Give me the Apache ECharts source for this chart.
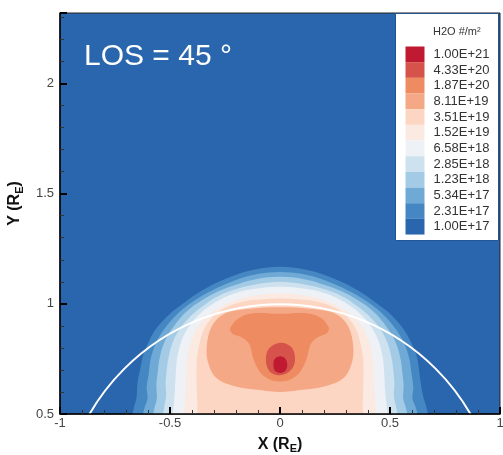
<!DOCTYPE html>
<html>
<head>
<meta charset="utf-8">
<script src="https://cdn.jsdelivr.net/npm/echarts@6/dist/echarts.min.js"></script>
<style>
  html, body { margin: 0; padding: 0; background: #fff; }
  #chart { width: 503px; height: 455px; }
</style>
</head>
<body>
<div id="chart"></div>
<script>
// Column density levels of the legend, lowest first, and their fill colours
const levelLabels = ['1.00E+17', '2.31E+17', '5.34E+17', '1.23E+18', '2.85E+18', '6.58E+18',
                     '1.52E+19', '3.51E+19', '8.11E+19', '1.87E+20', '4.33E+20', '1.00E+21'];
const levelColors = ['#2a66ad', '#4587c3', '#6fa9d5', '#a3cbe5', '#cde1ef', '#eef2f6',
                     '#fbeae2', '#fcd6c2', '#f5a886', '#ee8b60', '#d5534b', '#bf1a31'];

const legendTitle = 'H2O #/m\u00b2';
const losText = 'LOS = 45 \u00b0';
const earthRadius = 1;          // limb of the Earth, in R_E
const limbCenter = [0, 0];

// Filled contour outlines [x, y] (R_E), outermost level first.
// Open bands run below y = 0.5 and are clipped by the plot frame.
const band_2_31e17 = [[-0.672,0.44],[-0.666,0.52],[-0.652,0.575],[-0.648,0.64],[-0.636,0.70],[-0.624,0.76],[-0.600,0.82],[-0.568,0.88],[-0.505,0.95],[-0.442,1.00],[-0.355,1.06],[-0.255,1.11],[-0.130,1.152],[0,1.168],[0.130,1.152],[0.255,1.11],[0.355,1.06],[0.442,1.00],[0.505,0.95],[0.565,0.88],[0.598,0.82],[0.622,0.76],[0.632,0.70],[0.640,0.64],[0.652,0.575],[0.668,0.52],[0.672,0.44]];
const band_5_34e17 = [[-0.624,0.44],[-0.618,0.52],[-0.602,0.57],[-0.606,0.62],[-0.597,0.68],[-0.588,0.75],[-0.565,0.82],[-0.530,0.88],[-0.470,0.95],[-0.410,1.00],[-0.330,1.05],[-0.235,1.095],[-0.120,1.132],[0,1.145],[0.120,1.132],[0.235,1.095],[0.330,1.05],[0.410,1.00],[0.470,0.95],[0.530,0.88],[0.565,0.82],[0.588,0.75],[0.598,0.68],[0.606,0.62],[0.602,0.57],[0.620,0.52],[0.626,0.44]];
const band_1_23e18 = [[-0.578,0.44],[-0.572,0.52],[-0.560,0.57],[-0.562,0.63],[-0.556,0.69],[-0.548,0.75],[-0.528,0.82],[-0.495,0.88],[-0.440,0.95],[-0.380,1.00],[-0.305,1.045],[-0.215,1.082],[-0.110,1.112],[0,1.123],[0.110,1.112],[0.215,1.082],[0.305,1.045],[0.380,1.00],[0.440,0.95],[0.495,0.88],[0.528,0.82],[0.548,0.75],[0.556,0.69],[0.562,0.63],[0.560,0.57],[0.574,0.52],[0.580,0.44]];
const band_2_85e18 = [[-0.535,0.44],[-0.528,0.52],[-0.518,0.58],[-0.520,0.64],[-0.515,0.70],[-0.508,0.75],[-0.490,0.82],[-0.460,0.88],[-0.410,0.94],[-0.350,0.99],[-0.280,1.035],[-0.195,1.068],[-0.100,1.090],[0,1.100],[0.100,1.090],[0.195,1.068],[0.280,1.035],[0.350,0.99],[0.410,0.94],[0.460,0.88],[0.490,0.82],[0.508,0.75],[0.515,0.70],[0.520,0.64],[0.518,0.58],[0.530,0.52],[0.537,0.44]];
const band_6_58e18 = [[-0.490,0.44],[-0.485,0.52],[-0.478,0.60],[-0.474,0.68],[-0.468,0.75],[-0.452,0.82],[-0.425,0.88],[-0.380,0.94],[-0.320,0.99],[-0.250,1.03],[-0.170,1.058],[-0.085,1.072],[0,1.077],[0.085,1.072],[0.170,1.058],[0.250,1.03],[0.320,0.99],[0.380,0.94],[0.425,0.88],[0.452,0.82],[0.468,0.75],[0.474,0.68],[0.478,0.60],[0.487,0.52],[0.492,0.44]];
const band_1_52e19 = [[-0.440,0.44],[-0.435,0.52],[-0.430,0.60],[-0.428,0.68],[-0.423,0.75],[-0.408,0.82],[-0.385,0.88],[-0.345,0.93],[-0.290,0.975],[-0.220,1.01],[-0.150,1.032],[-0.075,1.044],[0,1.047],[0.075,1.044],[0.150,1.032],[0.220,1.01],[0.290,0.975],[0.345,0.93],[0.385,0.88],[0.408,0.82],[0.423,0.75],[0.428,0.68],[0.430,0.60],[0.436,0.52],[0.442,0.44]];
const band_3_51e19 = [[-0.378,0.44],[-0.375,0.52],[-0.378,0.60],[-0.380,0.68],[-0.378,0.75],[-0.366,0.82],[-0.347,0.88],[-0.315,0.93],[-0.268,0.972],[-0.200,1.002],[-0.125,1.017],[-0.060,1.022],[0,1.024],[0.060,1.022],[0.125,1.017],[0.200,1.002],[0.268,0.972],[0.315,0.93],[0.347,0.88],[0.366,0.82],[0.378,0.75],[0.380,0.68],[0.378,0.60],[0.376,0.52],[0.380,0.44]];
const band_8_11e19 = [[0,0.600],[-0.091,0.609],[-0.197,0.624],[-0.288,0.662],[-0.326,0.73],[-0.333,0.806],[-0.312,0.895],[-0.258,0.952],[-0.151,0.976],[0,0.984],[0.151,0.976],[0.258,0.952],[0.312,0.895],[0.333,0.806],[0.326,0.73],[0.288,0.662],[0.197,0.624],[0.091,0.609]];
const band_1_87e20 = [[0,0.955],[0.121,0.957],[0.185,0.937],[0.222,0.892],[0.212,0.866],[0.167,0.846],[0.138,0.814],[0.122,0.753],[0.092,0.692],[0.045,0.655],[0,0.648],[-0.045,0.655],[-0.092,0.692],[-0.122,0.753],[-0.138,0.814],[-0.170,0.846],[-0.216,0.864],[-0.226,0.890],[-0.187,0.935],[-0.121,0.957]];
const band_4_33e20 = [[0.003,0.823],[0.050,0.805],[0.068,0.760],[0.058,0.710],[0.020,0.680],[-0.020,0.678],[-0.052,0.700],[-0.064,0.750],[-0.050,0.797]];
const band_1_00e21 = [[0.002,0.762],[0.025,0.750],[0.033,0.722],[0.025,0.696],[0.002,0.686],[-0.022,0.695],[-0.030,0.722],[-0.024,0.750]];

// Each outline paired with the index of its level in levelLabels
const bands = [
  { level: 1, pts: band_2_31e17 },
  { level: 2, pts: band_5_34e17 },
  { level: 3, pts: band_1_23e18 },
  { level: 4, pts: band_2_85e18 },
  { level: 5, pts: band_6_58e18 },
  { level: 6, pts: band_1_52e19 },
  { level: 7, pts: band_3_51e19 },
  { level: 8, pts: band_8_11e19 },
  { level: 9, pts: band_1_87e20 },
  { level: 10, pts: band_4_33e20 },
  { level: 11, pts: band_1_00e21 }
];

const FONT = 'Liberation Sans, Arial, Helvetica, sans-serif';
const subRich = { sub: { fontSize: 11, fontWeight: 'bold', fontFamily: FONT, color: '#111', verticalAlign: 'bottom', lineHeight: 10 } };

const chart = echarts.init(document.getElementById('chart'), null, { renderer: 'canvas' });

const option = {
  animation: false,
  backgroundColor: '#ffffff',
  title: [
    {
      text: losText, left: 84, top: 42, padding: 0,
      textStyle: { color: '#ffffff', fontSize: 30, fontWeight: 'normal', fontFamily: FONT }
    },
    {
      text: legendTitle, left: 433, top: 26, padding: 0,
      textStyle: { color: '#333', fontSize: 11, fontWeight: 'normal', fontFamily: FONT }
    }
  ],
  grid: {
    left: 60, right: 3, top: 13, bottom: 41,
    containLabel: false, outerBoundsMode: 'none',
    show: true, backgroundColor: levelColors[0], borderColor: '#222', borderWidth: 1
  },
  // axes sit on their own layer so the inward ticks stay above the filled contours
  xAxis: {
    type: 'value', min: -1, max: 1, interval: 0.5, zlevel: 1, z: 10,
    name: 'X (R{sub|E})', nameLocation: 'middle', nameGap: 18,
    nameTextStyle: { color: '#111', fontSize: 16, fontWeight: 'bold', fontFamily: FONT, lineHeight: 20, rich: subRich },
    axisLine: { show: true, onZero: false, lineStyle: { color: '#000', width: 1.5 } },
    axisTick: { show: true, inside: true, length: 7, lineStyle: { color: '#000', width: 2 } },
    minorTick: { show: true, splitNumber: 5, length: 4, lineStyle: { color: '#333', width: 1 } },
    splitLine: { show: false },
    axisLabel: { color: '#444', fontSize: 13, margin: 3, fontFamily: FONT }
  },
  yAxis: {
    type: 'value', min: 0.5, max: 2.32, interval: 0.5, position: 'left', zlevel: 1, z: 10,
    name: 'Y (R{sub|E})', nameLocation: 'middle', nameGap: 32,
    nameTextStyle: { color: '#111', fontSize: 16, fontWeight: 'bold', fontFamily: FONT, lineHeight: 20, padding: [0, 0, 0, 20], rich: subRich },
    axisLine: { show: true, onZero: false, lineStyle: { color: '#000', width: 1.5 } },
    axisTick: { show: true, inside: true, length: 7, lineStyle: { color: '#000', width: 2 } },
    minorTick: { show: true, splitNumber: 5, length: 4, lineStyle: { color: '#333', width: 1 } },
    splitLine: { show: false },
    axisLabel: { color: '#444', fontSize: 13, margin: 6, fontFamily: FONT, showMaxLabel: false }
  },
  visualMap: {
    type: 'piecewise',
    seriesIndex: 0,
    dimension: 2,
    orient: 'vertical',
    align: 'left',
    pieces: levelLabels.map((label, i) => ({ value: i, label: label, color: levelColors[i] })),
    left: 395, top: 13,
    itemWidth: 19, itemHeight: 15.67, itemGap: 0, itemSymbol: 'rect',
    textGap: 9,
    padding: [33, 9, 6, 10],
    backgroundColor: '#ffffff',
    borderColor: '#1f5596', borderWidth: 1,
    selectedMode: false, hoverLink: false,
    textStyle: { color: '#333', fontSize: 13, fontFamily: FONT }
  },
  series: [
    {
      type: 'custom',
      coordinateSystem: 'cartesian2d',
      xAxisIndex: 0, yAxisIndex: 0, z: 1,
      clip: true, silent: true,
      data: bands.map(b => [0, 0.5, b.level]),
      encode: { x: 0, y: 1 },
      renderItem: function (params, api) {
        const pts = bands[params.dataIndex].pts.map(p => api.coord(p));
        return {
          type: 'polygon',
          shape: { points: pts, smooth: 0.35 },
          style: { fill: api.visual('color'), stroke: null }
        };
      }
    },
    {
      // Earth's limb
      type: 'custom',
      coordinateSystem: 'cartesian2d',
      xAxisIndex: 0, yAxisIndex: 0, z: 2,
      clip: true, silent: true,
      data: [[limbCenter[0], limbCenter[1], earthRadius]],
      encode: { x: 0, y: 1 },
      renderItem: function (params, api) {
        const c = api.coord([api.value(0), api.value(1)]);
        const r = api.size([api.value(2), 0])[0];
        return {
          type: 'circle',
          shape: { cx: c[0], cy: c[1], r: r },
          style: { fill: 'none', stroke: '#ffffff', lineWidth: 2 }
        };
      }
    }
  ]
};

chart.setOption(option);
</script>
</body>
</html>
